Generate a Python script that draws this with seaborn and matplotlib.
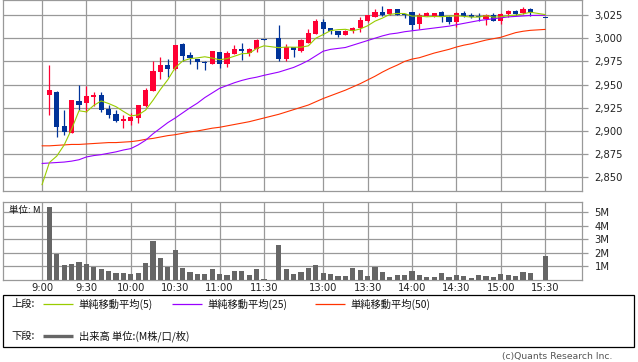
import matplotlib
matplotlib.use("Agg")
import matplotlib.pyplot as plt
from matplotlib.patches import Rectangle
from matplotlib.lines import Line2D
import seaborn as sns
import pandas as pd

sns.set_theme(style="white")
plt.rcParams['font.family'] = ['DejaVu Sans', 'Noto Sans CJK JP']
JP = ['Noto Sans CJK JP', 'DejaVu Sans']

# ---------------- data ----------------
morning_times = ["9:00", "9:05", "9:10", "9:15", "9:20", "9:25", "9:30", "9:35", "9:40", "9:45",
                 "9:50", "9:55", "10:00", "10:05", "10:10", "10:15", "10:20", "10:25", "10:30", "10:35",
                 "10:40", "10:45", "10:50", "10:55", "11:00", "11:05", "11:10", "11:15", "11:20", "11:25"]
afternoon_times = ["12:30", "12:35", "12:40", "12:45", "12:50", "12:55", "13:00", "13:05", "13:10",
                   "13:15", "13:20", "13:25", "13:30", "13:35", "13:40", "13:45", "13:50", "13:55",
                   "14:00", "14:05", "14:10", "14:15", "14:20", "14:25", "14:30", "14:35", "14:40",
                   "14:45", "14:50", "14:55", "15:00", "15:05", "15:10", "15:15", "15:20"]
close_time = ["15:30"]
bar_times = morning_times + afternoon_times + close_time

opens = [2939, 2942, 2905, 2898, 2932.5, 2930, 2937, 2939, 2923.5, 2918,
         2911, 2911, 2913.5, 2926.5, 2943.5, 2964, 2971, 2967, 2994, 2982,
         2977.5, 2974.5, 2972, 2985, 2972, 2983, 2988.5, 2984.5, 2988, 2999.5,
         3000, 2978, 2990, 2986.5, 2995, 3005, 3017, 3010.5, 3008, 3004,
         3008, 3011.5, 3019, 3023, 3028, 3026, 3031, 3026.5, 3028, 3015,
         3024, 3023, 3028, 3023, 3017, 3027, 3024.5, 3024, 3020.5, 3025,
         3019, 3026, 3029.5, 3027, 3031.5, 3022.5]
highs = [2971, 2943, 2923, 2933.5, 2949.5, 2948.5, 2942, 2942, 2928, 2922.5,
         2917.5, 2919.5, 2928, 2946.5, 2975.5, 2980, 2977.5, 2993, 2995, 2985.5,
         2978, 2975, 2986.5, 2985.5, 2986.5, 2992.5, 2995, 2989, 2999, 2999.5,
         3014, 2994, 2990.5, 2999, 3010, 3020.5, 3020.5, 3011, 3008, 3009,
         3012.5, 3022.5, 3025.5, 3032, 3034.5, 3031.5, 3032, 3026.5, 3028, 3027,
         3028.5, 3027.5, 3029, 3023.5, 3028, 3029.5, 3027, 3027, 3026, 3027,
         3027, 3030, 3030, 3034, 3032.5, 3022.5]
lows = [2917, 2894, 2895.5, 2897.5, 2922.5, 2921, 2927, 2921, 2913.5, 2910,
        2903.5, 2906, 2909, 2926, 2943.5, 2956, 2958.5, 2966, 2975.5, 2972,
        2967, 2965.5, 2972, 2967.5, 2969, 2982.5, 2976.5, 2981, 2985, 2998.5,
        2975, 2975, 2980, 2985.5, 2995, 3005, 3004, 3005, 3001, 3003,
        3006, 3007, 3018, 3023, 3024, 3025, 3024.5, 3021.5, 3009, 3010,
        3023.5, 3022.5, 3018, 3015.5, 3012.5, 3023, 3022, 3018.5, 3014.5, 3018.5,
        3015.5, 3023, 3025, 3026, 3024, 3022.5]
closes = [2944, 2904, 2898.5, 2933, 2928, 2938, 2939, 2923, 2917.5, 2911,
          2912.5, 2915, 2928, 2944.5, 2965, 2971, 2967, 2992.5, 2981, 2978.5,
          2974.5, 2973, 2986, 2972, 2984, 2988, 2986.5, 2988, 2998, 2998.5,
          2978, 2990, 2987, 2998, 3006, 3018.5, 3010, 3008, 3003, 3008,
          3011, 3019.5, 3025, 3028, 3024.5, 3031, 3025, 3024.5, 3014, 3025,
          3027, 3027, 3023, 3017, 3027, 3024, 3023, 3023, 3024.5, 3019,
          3026, 3029, 3026, 3031, 3028, 3022.5]
volume_m = [5.38, 1.9, 1.1, 1.17, 1.3, 1.17, 0.95, 0.8, 0.66, 0.5,
            0.5, 0.44, 0.5, 1.25, 2.85, 1.6, 0.95, 2.2, 0.88, 0.58,
            0.44, 0.44, 0.8, 0.44, 0.37, 0.66, 0.66, 0.37, 0.8, 0.07,
            2.56, 0.8, 0.44, 0.58, 0.88, 1.1, 0.5, 0.44, 0.3, 0.3,
            0.88, 0.73, 0.3, 0.95, 0.58, 0.22, 0.37, 0.37, 0.66, 0.37,
            0.22, 0.22, 0.5, 0.22, 0.37, 0.3, 0.15, 0.37, 0.3, 0.22,
            0.44, 0.37, 0.3, 0.58, 0.5, 1.75]

# moving averages: first value is the 9:00 starting point, then one per bar
ma5 = [2842, 2866, 2873, 2885, 2902, 2921.8, 2920.6, 2927.6, 2932.4, 2929.6, 2926.2,
       2921.1, 2916.3, 2917.3, 2922.5, 2933.1, 2944.8, 2955.2, 2968.2, 2975.4, 2978.0,
       2978.8, 2980.0, 2978.6, 2976.8, 2978.0, 2980.6, 2983.3, 2983.7, 2988.9, 2991.8,
       2989.8, 2990.5, 2990.3, 2990.3, 2991.8, 3000.0, 3004.0, 3008.2, 3009.2, 3009.6,
       3008.0, 3010.0, 3013.4, 3018.4, 3021.7, 3025.7, 3026.7, 3026.6, 3023.8, 3023.9,
       3023.1, 3023.5, 3023.2, 3023.8, 3024.2, 3023.6, 3022.8, 3022.8, 3024.3, 3022.7,
       3023.1, 3024.3, 3024.9, 3026.2, 3028.0, 3025.5]
ma25 = [2865, 2865.5, 2866, 2866.5, 2867.5, 2869, 2872, 2873.5, 2874.5, 2876, 2877.5,
        2879.5, 2881, 2885, 2890, 2897, 2903, 2909, 2914, 2919.5, 2925,
        2930, 2936, 2941, 2946, 2949, 2952, 2954.5, 2956.5, 2958, 2960,
        2963.5, 2966, 2968.5, 2972, 2976, 2981, 2986, 2988, 2989, 2990,
        2992.5, 2995, 2997.5, 3000, 3002.5, 3004.5, 3005.5, 3007, 3008, 3009,
        3010, 3011, 3012, 3013, 3014.5, 3016, 3017.5, 3019, 3020, 3021,
        3022, 3023, 3023.5, 3024, 3024.5, 3024.8]
ma50 = [2884, 2884, 2884.5, 2885, 2885.5, 2885.5, 2886, 2886.5, 2887, 2887.5, 2887.5,
        2888, 2888.5, 2889.5, 2891, 2892, 2893.5, 2895, 2896, 2897.5, 2899,
        2900, 2901.5, 2903, 2904, 2905.5, 2907, 2908.5, 2910, 2912, 2914,
        2918, 2920.5, 2923, 2925.5, 2928, 2931.5, 2935, 2938, 2941, 2944,
        2947.5, 2951, 2955, 2959, 2963.5, 2967.5, 2971, 2975, 2977.5, 2979,
        2981.5, 2984, 2986, 2988, 2990.5, 2992.5, 2994, 2996, 2998, 2999.5,
        3001, 3003.5, 3006, 3007.5, 3008.5, 3009.5]

tick_labels = ["9:00", "9:30", "10:00", "10:30", "11:00", "11:30",
               "13:00", "13:30", "14:00", "14:30", "15:00", "15:30"]
price_ticks = [2850, 2875, 2900, 2925, 2950, 2975, 3000, 3025]
vol_ticks = [1, 2, 3, 4, 5]


# ---------------- helpers ----------------
def minutes(t):
    h, m = t.split(":")
    return int(h) * 60 + int(m)


def tick_pos(t):
    mm = minutes(t)
    return (mm - 540) / 5 if mm < 720 else (mm - 750) / 5 + 32


def bar_pos(t):
    mm = minutes(t)
    return tick_pos(t) + (1 if mm < 720 else 0)


xs = [bar_pos(t) for t in bar_times]
ma_x = [tick_pos("9:00")] + xs
ticks_x = [tick_pos(t) for t in tick_labels]

df = pd.DataFrame({"x": xs, "open": opens, "high": highs, "low": lows,
                   "close": closes, "vol": volume_m})
RED, BLUE = "#ff0033", "#003399"
df["color"] = [RED if c > o else BLUE for o, c in zip(df["open"], df["close"])]
df["body"] = [max(abs(c - o), 1.0) for o, c in zip(df["open"], df["close"])]
df["bottom"] = [min(o, c) if abs(c - o) >= 1.0 else (o + c) / 2 - 0.5
                for o, c in zip(df["open"], df["close"])]

ma_df = pd.DataFrame({"x": ma_x, "ma5": ma5, "ma25": ma25, "ma50": ma50})

# ---------------- figure ----------------
W, H = 638, 362
fig = plt.figure(figsize=(W / 100, H / 100), dpi=100)
fig.patch.set_facecolor("white")

X0, SLOT = 42.0, 7.4
xl = ((3 - X0) / SLOT, (582 - X0) / SLOT)

ax1 = fig.add_axes([3 / W, 1 - 191 / H, 579 / W, 191 / H])
ax2 = fig.add_axes([3 / W, 1 - 280 / H, 579 / W, 78 / H])

GRID = "#999999"
for ax in (ax1, ax2):
    ax.set_facecolor("white")
    ax.set_xlim(*xl)
    ax.set_xticks(ticks_x)
    ax.grid(True, color=GRID, lw=0.9)
    ax.set_axisbelow(True)
    for s in ax.spines.values():
        s.set_color(GRID)
        s.set_linewidth(0.9)
    ax.yaxis.tick_right()
    ax.tick_params(axis="y", which="both", right=True, length=4, width=0.9,
                   color=GRID, labelsize=7.2, pad=5, labelcolor="#222222")
    ax.tick_params(axis="x", length=0)
    ax.set_xlabel("")
    ax.set_ylabel("")

# upper panel
ax1.set_ylim(2835.3, 3041.2)
ax1.set_yticks(price_ticks)
ax1.set_yticklabels([f"{v:,}" for v in price_ticks])
ax1.set_xticklabels([])

ax1.vlines(df["x"], df["low"], df["high"], colors=df["color"], lw=0.9, zorder=3)
ax1.bar(df["x"], df["body"], bottom=df["bottom"], width=0.7, color=df["color"],
        linewidth=0, zorder=4)

sns.lineplot(data=ma_df, x="x", y="ma50", ax=ax1, color="#ff3300", lw=0.8, zorder=5)
sns.lineplot(data=ma_df, x="x", y="ma25", ax=ax1, color="#9900ff", lw=0.8, zorder=5)
sns.lineplot(data=ma_df, x="x", y="ma5", ax=ax1, color="#99cc00", lw=0.8, zorder=6)
ax1.set_xlabel("")
ax1.set_ylabel("")
ax1.set_xlim(*xl)

# lower panel
ax2.bar(df["x"], df["vol"], width=0.7, color="#666666", linewidth=0, zorder=3)
ax2.set_ylim(0, 5.735)
ax2.set_yticks(vol_ticks)
ax2.set_yticklabels([f"{v}M" for v in vol_ticks])
ax2.set_xticklabels(tick_labels, fontsize=7.2, color="#222222")
ax2.tick_params(axis="x", pad=2.5)
ax2.set_xlim(*xl)

fig.text(9 / W, 1 - 210 / H, "単位: M", fontsize=6.8, family=JP, va="center",
         ha="left", color="#111111")

# legend box
fig.add_artist(Rectangle((3 / W, 1 - 347 / H), 631 / W, 52 / H, transform=fig.transFigure,
                         fill=False, ec="black", lw=0.9))


def leg_line(x0, x1, y, color, lw):
    fig.add_artist(Line2D([x0 / W, x1 / W], [1 - y / H, 1 - y / H], transform=fig.transFigure,
                          color=color, lw=lw, solid_capstyle="butt"))


def leg_text(x, y, s):
    fig.text(x / W, 1 - y / H, s, fontsize=7.4, family=JP, va="center", ha="left",
             color="#111111")


leg_text(11, 304, "上段:")
leg_line(43, 73, 304, "#99cc00", 0.9)
leg_text(78, 304, "単純移動平均(5)")
leg_line(172, 202, 304, "#9900ff", 0.9)
leg_text(207, 304, "単純移動平均(25)")
leg_line(315, 345, 304, "#ff3300", 0.9)
leg_text(350, 304, "単純移動平均(50)")
leg_text(11, 336, "下段:")
leg_line(43, 73, 336, "#666666", 2.4)
leg_text(79, 336, "出来高 単位:(M株/口/枚)")

fig.text(612 / W, 1 - 357 / H, "(c)Quants Research Inc.", fontsize=6.7, ha="right",
         va="center", color="#555555")

fig.savefig("out.png", dpi=100, facecolor="white")
